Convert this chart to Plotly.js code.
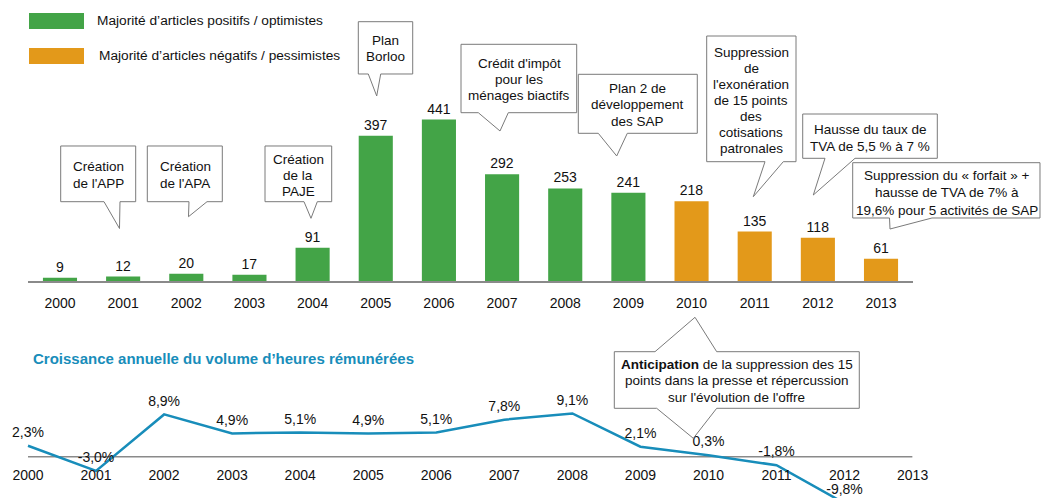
<!DOCTYPE html>
<html>
<head>
<meta charset="utf-8">
<script src="https://cdn.plot.ly/plotly-3.0.1.min.js"></script>
<style>html,body{margin:0;padding:0;background:#fff;}#chart{width:1042px;height:498px;}</style>
</head>
<body>
<div id="chart"></div>
<script>
// ---- Data ----
const years = ['2000','2001','2002','2003','2004','2005','2006','2007','2008','2009','2010','2011','2012','2013'];
const articleCounts = [9, 12, 20, 17, 91, 397, 441, 292, 253, 241, 218, 135, 118, 61];
const articleTone = ['pos','pos','pos','pos','pos','pos','pos','pos','pos','pos','neg','neg','neg','neg'];
const growthYears = ['2000','2001','2002','2003','2004','2005','2006','2007','2008','2009','2010','2011','2012'];
const growthPct = [2.3, -3.0, 8.9, 4.9, 5.1, 4.9, 5.1, 7.8, 9.1, 2.1, 0.3, -1.8, -9.8];
const legendLabels = ['Majorité d’articles positifs / optimistes', 'Majorité d’articles négatifs / pessimistes'];
const lineTitle = 'Croissance annuelle du volume d’heures rémunérées';

// ---- Styles ----
const W = 1042, H = 498;
const FONT = 'Liberation Sans, Arial, sans-serif';
const GREEN = 'rgb(67,164,71)';
const ORANGE = 'rgb(227,153,26)';
const BLUE = 'rgb(24,141,186)';
const GREY = '#8a8a8a';
const toneColor = {pos: GREEN, neg: ORANGE};

const px = x => x / W;
const py = y => 1 - y / H;

// callouts (layout, in pixels)
const callouts = [
  {box:[60.7,146,135.7,201.7], tail:{b1:104, tip:[119.5,228.5], b2:120}, lines:['Création','de l\'APP'], cx:98, y0:166.7, dy:16.3},
  {box:[147.3,146,222.3,201.7], tail:{b1:189, tip:[188.5,216.7], b2:207}, lines:['Création','de l\'APA'], cx:185, y0:166.7, dy:16.3},
  {box:[265,146,331.7,201.7], tail:{b1:304, tip:[311,218.3], b2:317.3}, lines:['Création','de la','PAJE'], cx:298.3, y0:159.3, dy:16.2},
  {box:[358.3,21.7,412.7,74], tail:{b1:368.3, tip:[376.7,96], b2:380.7}, lines:['Plan','Borloo'], cx:385, y0:40.7, dy:15.5},
  {box:[461,44.3,576.7,112.7], tail:{b1:478.3, tip:[500,131], b2:508.3}, lines:['Crédit d\'impôt','pour les','ménages biactifs'], cx:519, y0:63.3, dy:16.2},
  {box:[578.3,74.3,697.3,133.3], tail:{b1:598.3, tip:[616.7,156], b2:627.3}, lines:['Plan 2 de','développement','des SAP'], cx:637.5, y0:88.3, dy:16.4},
  {box:[706.7,36,796,161.7], tail:{b1:765, tip:[753.3,196.7], b2:783.3}, lines:['Suppression','de','l\'exonération','de 15 points','des','cotisations','patronales'], cx:751.3, y0:52.3, dy:16},
  {box:[802.7,114,937.3,158.3], tail:{b1:825, tip:[813.3,195], b2:855}, lines:['Hausse du taux de','TVA de 5,5 % à 7 %'], cx:870, y0:129, dy:17},
  {box:[852.7,162.7,1040,218], tail:{b1:889.5, tip:[890,229], b2:932}, lines:['Suppression du « forfait » +','hausse de TVA de 7% à','19,6% pour 5 activités de SAP'], cx:946.5, y0:176, dy:17},
  {box:[614.3,351.7,859.3,408.3], tail:{b1:656.7, tip:[693.3,438.3], b2:716.7}, top:{b1:655, tip:[695,317.3], b2:716.7},
   lines:['<b>Anticipation</b> de la suppression des 15','points dans la presse et répercussion','sur l\'évolution de l\'offre'], cx:736.7, y0:364.3, dy:16.5}
];

function calloutPath(c) {
  const [l,t,r,b] = c.box;
  const P = (x,y) => px(x).toFixed(5) + ',' + py(y).toFixed(5);
  let d = 'M' + P(l,t);
  if (c.top) {
    d += ' L' + P(c.top.b1,t) + ' L' + P(c.top.tip[0],c.top.tip[1]) + ' L' + P(c.top.b2,t);
  }
  d += ' L' + P(r,t) + ' L' + P(r,b);
  d += ' L' + P(c.tail.b2,b) + ' L' + P(c.tail.tip[0],c.tail.tip[1]) + ' L' + P(c.tail.b1,b);
  d += ' L' + P(l,b) + ' Z';
  return d;
}

const shapes = [];
const annotations = [];

// legend swatches + labels
[[13,29,GREEN,95,21],[48,64,ORANGE,97,56]].forEach((s,i) => {
  shapes.push({type:'rect', xref:'paper', yref:'paper', x0:px(29), x1:px(84), y0:py(s[1]), y1:py(s[0]),
    fillcolor:s[2], line:{width:0}});
  annotations.push({xref:'paper', yref:'paper', x:px(s[3]), y:py(s[4]), xanchor:'left', yanchor:'middle',
    text:legendLabels[i], showarrow:false, font:{family:FONT, size:13.7, color:'#111'}});
});

// line chart title
annotations.push({xref:'paper', yref:'paper', x:px(31), y:py(358), xanchor:'left', yanchor:'middle',
  text:'<b>' + lineTitle + '</b>', showarrow:false, font:{family:FONT, size:15, color:BLUE}});

// zero line of the growth chart
shapes.push({type:'line', xref:'x2', yref:'y2', x0:0, x1:13, y0:0, y1:0, layer:'below',
  line:{color:GREY, width:1.5}});

callouts.forEach(c => {
  shapes.push({type:'path', xref:'paper', yref:'paper', path:calloutPath(c), fillcolor:'#fff',
    line:{color:'#7a7a7a', width:1}, layer:'above'});
  c.lines.forEach((ln,i) => {
    annotations.push({xref:'paper', yref:'paper', x:px(c.cx), y:py(c.y0 + i*c.dy), xanchor:'center', yanchor:'middle',
      text:ln, showarrow:false, font:{family:FONT, size:13.5, color:'#111'}});
  });
});

const barTrace = {
  type:'bar', x:years, y:articleCounts, xaxis:'x', yaxis:'y',
  marker:{color:articleTone.map(t => toneColor[t])},
  width:0.54,
  text:articleCounts.map(String), textposition:'outside', cliponaxis:false,
  textfont:{family:FONT, size:14, color:'#111'},
  hoverinfo:'x+y'
};

const lineTrace = {
  type:'scatter', mode:'lines+markers+text', x:growthYears, y:growthPct, xaxis:'x2', yaxis:'y2',
  line:{color:BLUE, width:2.5},
  marker:{size:7, color:'rgba(0,0,0,0)'},
  text:growthPct.map(v => v.toFixed(1).replace('.', ',') + '%'),
  textposition:'top center', cliponaxis:true,
  textfont:{family:FONT, size:14, color:'#111'}
};

const xDom = [px(28.4), px(912.6)];
const barScale = 0.366;       // px per article
const lineStep = (912.6 - 28) / 13;  // px per year on growth chart
const lineScale = 4.75;       // px per %
const barBase = 281, lineZero = 456.7, lineTop = 380;

const layout = {
  width:W, height:H, margin:{l:0, r:0, t:0, b:0, pad:0},
  paper_bgcolor:'#fff', plot_bgcolor:'rgba(0,0,0,0)',
  showlegend:false, font:{family:FONT, size:14, color:'#111'},
  bargap:0.46,
  xaxis:{type:'category', categoryorder:'array', categoryarray:years, range:[-0.5,13.5], domain:xDom,
    anchor:'y', showline:true, linecolor:GREY, linewidth:1.5, ticks:'', showgrid:false, zeroline:false,
    tickfont:{family:FONT, size:14, color:'#111'}, ticklabelstandoff:9, fixedrange:true},
  yaxis:{domain:[py(barBase), 1], range:[0, barBase / barScale], visible:false, fixedrange:true},
  xaxis2:{type:'category', categoryorder:'array', categoryarray:years, range:[-28 / lineStep, 13], domain:[0, px(912.6)],
    anchor:'free', position:py(lineZero), showline:false, ticks:'',
    showgrid:false, zeroline:false, tickfont:{family:FONT, size:14, color:'#111'}, ticklabelstandoff:8, fixedrange:true},
  yaxis2:{domain:[0, py(lineTop)], anchor:'x2',
    range:[-(H - lineZero) / lineScale, (lineZero - lineTop) / lineScale], visible:false, fixedrange:true},
  shapes:shapes,
  annotations:annotations
};

Plotly.newPlot('chart', [barTrace, lineTrace], layout, {displayModeBar:false, staticPlot:true});
</script>
</body>
</html>
